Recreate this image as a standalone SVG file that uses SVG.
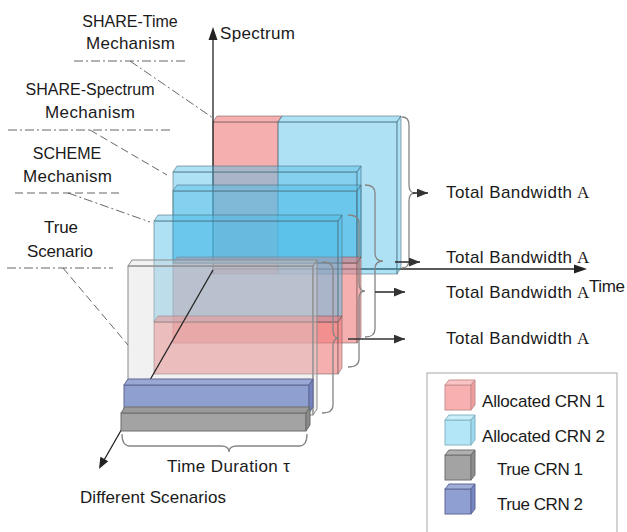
<svg xmlns="http://www.w3.org/2000/svg" width="627" height="532" viewBox="0 0 627 532">
<defs>
<style>
text{font-family:"Liberation Sans",Arial,sans-serif;font-size:17px;fill:#1a1a1a}
.cap{font-size:16px}
.pk{fill:rgb(240,122,122);fill-opacity:.6;stroke:#6e5a5a;stroke-opacity:.55;stroke-width:1}
.bl{fill:#4dbde8;fill-opacity:.45;stroke:#4e6e7c;stroke-opacity:.6;stroke-width:1}
.wh{fill:#d6d6d6;fill-opacity:.35;stroke:#8a8a8a;stroke-width:1}
.bb{fill:#8f9fd0;stroke:#5e6690;stroke-width:1}
.bbt{fill:#9aa8d6;stroke:#5e6690;stroke-width:1}
.bbr{fill:#7483bf;stroke:#5e6690;stroke-width:1}
.gb{fill:#a3a3a3;stroke:#6c6c6c;stroke-width:1}
.gbt{fill:#9a9a9a;stroke:#6c6c6c;stroke-width:1}
.gbr{fill:#8a8a8a;stroke:#6c6c6c;stroke-width:1}
.br{fill:none;stroke:#858585;stroke-width:1.3}
.ax{stroke:#222;stroke-width:1.3;fill:none}
.arr{stroke:#333;stroke-width:1.6;fill:none;marker-end:url(#ah)}
.dd{stroke:#555;stroke-width:.9;fill:none;stroke-dasharray:9,3,2,3}
.ds{stroke:#555;stroke-width:.9;fill:none;stroke-dasharray:8,4}
.A{font-family:"Liberation Serif","Times New Roman",serif}
</style>
<marker id="ah" viewBox="0 0 10 8" refX="10" refY="4" markerWidth="11" markerHeight="9" orient="auto" markerUnits="userSpaceOnUse"><path d="M0,0 L10,4 L0,8 z" fill="#333"/></marker>
</defs>

<!-- time axis (behind) -->
<g id="time-axis">
<line class="ax" x1="213" y1="269" x2="576" y2="269"/>
<polygon points="587,269 574,264.5 574,273.5" fill="#222"/>
</g>

<!-- Layer 0: SHARE-Time -->
<g id="share-time-layer">
<rect class="pk" x="213" y="122" width="65" height="152"/>
<polygon class="pk" points="213,122 217,116 282,116 278,122"/>
<rect class="bl" x="278" y="122" width="119" height="152"/>
<polygon class="bl" points="278,122 282,116 401,116 397,122"/>
<polygon class="bl" points="397,122 401,116 401,268 397,274"/>
</g>

<!-- spectrum axis -->
<g id="spectrum-axis">
<line class="ax" x1="213" y1="274" x2="213" y2="38"/>
<polygon points="213,27 208.5,40 217.5,40" fill="#222"/>
</g>

<!-- Layer B: SHARE-Spectrum -->
<g id="share-spectrum-layer">
<rect class="bl" x="173" y="172" width="184" height="91"/>
<polygon class="bl" points="173,172 177,166 361,166 357,172"/>
<polygon class="bl" points="357,172 361,166 361,257 357,263"/>
<rect class="bl" x="173" y="191" width="184" height="72"/>
<polygon class="bl" points="173,191 177,185 361,185 357,191"/>
<polygon class="bl" points="357,191 361,185 361,257 357,263"/>
<rect class="pk" x="173" y="263" width="184" height="80"/>
<polygon class="pk" points="173,263 177,257 361,257 357,263"/>
<polygon class="pk" points="357,263 361,257 361,337 357,343"/>
</g>

<!-- Layer C: SCHEME -->
<g id="scheme-layer">
<rect class="bl" x="154" y="221" width="184" height="101"/>
<polygon class="bl" points="154,221 158,215 342,215 338,221"/>
<polygon class="bl" points="338,221 342,215 342,316 338,322"/>
<rect class="pk" x="154" y="322" width="184" height="52"/>
<polygon class="pk" points="154,322 158,316 342,316 338,322"/>
<polygon class="pk" points="338,322 342,316 342,368 338,374"/>
</g>

<!-- Layer D: True scenario -->
<g id="true-layer">
<rect class="wh" x="128" y="266" width="185" height="149"/>
<polygon class="wh" points="128,266 132,260 317,260 313,266"/>
<polygon class="wh" points="313,266 317,260 317,409 313,415"/>
</g>

<!-- scenario axis -->
<g id="scenario-axis">
<line class="ax" x1="213" y1="270" x2="103.5" y2="461"/>
<polygon points="99,469 108.2,461.2 100.4,456.7" fill="#222"/>
</g>

<!-- true demand bars -->
<g id="true-crn2-bar">
<rect class="bb" x="124" y="385" width="185" height="28"/>
<polygon class="bbt" points="124,385 128,379 313,379 309,385"/>
<polygon class="bbr" points="309,385 313,379 313,407 309,413"/>
</g>
<g id="true-crn1-bar">
<rect class="gb" x="121" y="413" width="185" height="18"/>
<polygon class="gbt" points="121,413 125,407 310,407 306,413"/>
<polygon class="gbr" points="306,413 310,407 310,425 306,431"/>
</g>

<!-- connectors -->
<g id="connectors">
<path class="br" d="M402,117 Q409,117 409,125 L409,185 Q409,193 415,193 Q409,193 409,201 L409,260 Q409,268 402,268"/>
<path class="br" d="M365,185 Q375,185 375,193 L375,253 Q375,261 383,261 Q375,261 375,269 L375,329 Q375,337 365,337"/>
<path class="br" d="M348,215 Q359,215 359,223 L359,283 Q359,291 365,291 Q359,291 359,299 L359,359 Q359,367 348,367"/>
<path class="br" d="M322,262 Q333,262 333,270 L333,330 Q333,338 339,338 Q333,338 333,346 L333,405 Q333,413 322,413"/>
<path class="br" d="M122,434 Q122,446 130,446 L221,446 Q229,446 229,452 Q229,446 237,446 L299,446 Q307,446 307,434"/>
<line class="arr" x1="413" y1="193" x2="428" y2="193"/>
<line class="arr" x1="395" y1="262" x2="420" y2="262"/>
<line class="arr" x1="375" y1="292" x2="405" y2="292"/>
<line class="arr" x1="348" y1="339" x2="405" y2="339"/>
<line class="dd" x1="74" y1="61" x2="185" y2="61"/>
<line class="dd" x1="130" y1="61" x2="213" y2="118"/>
<line class="dd" x1="8" y1="130" x2="172" y2="130"/>
<line class="ds" x1="90" y1="130" x2="167" y2="175"/>
<line class="ds" x1="15" y1="193" x2="120" y2="193"/>
<line class="dd" x1="68" y1="193" x2="150" y2="222"/>
<line class="dd" x1="7" y1="268" x2="113" y2="268"/>
<line class="ds" x1="63" y1="268" x2="128" y2="345"/>
</g>

<!-- labels -->
<g id="labels">
<text x="220" y="39" textLength="75" lengthAdjust="spacing">Spectrum</text>
<text x="589" y="292" textLength="36" lengthAdjust="spacing">Time</text>
<text class="cap" x="130" y="27" text-anchor="middle">SHARE-Time</text>
<text x="86" y="49" textLength="89" lengthAdjust="spacing">Mechanism</text>
<text class="cap" x="90" y="95" text-anchor="middle">SHARE-Spectrum</text>
<text x="45" y="118" textLength="90" lengthAdjust="spacing">Mechanism</text>
<text class="cap" x="67" y="159" text-anchor="middle">SCHEME</text>
<text x="23" y="182" textLength="89" lengthAdjust="spacing">Mechanism</text>
<text x="44" y="233" textLength="34" lengthAdjust="spacing">True</text>
<text x="27" y="257" textLength="66" lengthAdjust="spacing">Scenario</text>
<text y="198"><tspan x="446" textLength="126" lengthAdjust="spacing">Total Bandwidth</tspan><tspan x="577" class="A">A</tspan></text>
<text y="263"><tspan x="446" textLength="126" lengthAdjust="spacing">Total Bandwidth</tspan><tspan x="577" class="A">A</tspan></text>
<text y="298"><tspan x="446" textLength="126" lengthAdjust="spacing">Total Bandwidth</tspan><tspan x="577" class="A">A</tspan></text>
<text y="344"><tspan x="446" textLength="126" lengthAdjust="spacing">Total Bandwidth</tspan><tspan x="577" class="A">A</tspan></text>
<text x="167" y="472" textLength="123" lengthAdjust="spacing">Time Duration τ</text>
<text x="80" y="503" textLength="146" lengthAdjust="spacing">Different Scenarios</text>
</g>

<!-- legend -->
<g id="legend">
<rect x="427" y="373" width="190" height="170" fill="none" stroke="#a8a8a8" stroke-width="1"/>
<g id="legend-crn1">
<rect x="445" y="385" width="26" height="25" fill="#f8b0b0" stroke="#c89090"/>
<polygon points="445,385 449,380 475,380 471,385" fill="#fbc4c4" stroke="#c89090"/>
<polygon points="471,385 475,380 475,405 471,410" fill="#ee9c9c" stroke="#c89090"/>
<text x="482" y="407" textLength="123" lengthAdjust="spacing">Allocated CRN 1</text>
</g>
<g id="legend-crn2">
<rect x="445" y="420" width="26" height="25" fill="#b3e7f8" stroke="#84b4c4"/>
<polygon points="445,420 449,415 475,415 471,420" fill="#c8eefa" stroke="#84b4c4"/>
<polygon points="471,420 475,415 475,440 471,445" fill="#9cd8ee" stroke="#84b4c4"/>
<text x="482" y="442" textLength="123" lengthAdjust="spacing">Allocated CRN 2</text>
</g>
<g id="legend-true1">
<rect x="445" y="455" width="26" height="25" fill="#a3a3a3" stroke="#707070"/>
<polygon points="445,455 449,450 475,450 471,455" fill="#b0b0b0" stroke="#707070"/>
<polygon points="471,455 475,450 475,475 471,480" fill="#8c8c8c" stroke="#707070"/>
<text x="497" y="475" textLength="86" lengthAdjust="spacing">True CRN 1</text>
</g>
<g id="legend-true2">
<rect x="445" y="489" width="26" height="25" fill="#8f9fd2" stroke="#5f6896"/>
<polygon points="445,489 449,484 475,484 471,489" fill="#a0add9" stroke="#5f6896"/>
<polygon points="471,489 475,484 475,509 471,514" fill="#7685c0" stroke="#5f6896"/>
<text x="497" y="510" textLength="86" lengthAdjust="spacing">True CRN 2</text>
</g>
</g>
</svg>
